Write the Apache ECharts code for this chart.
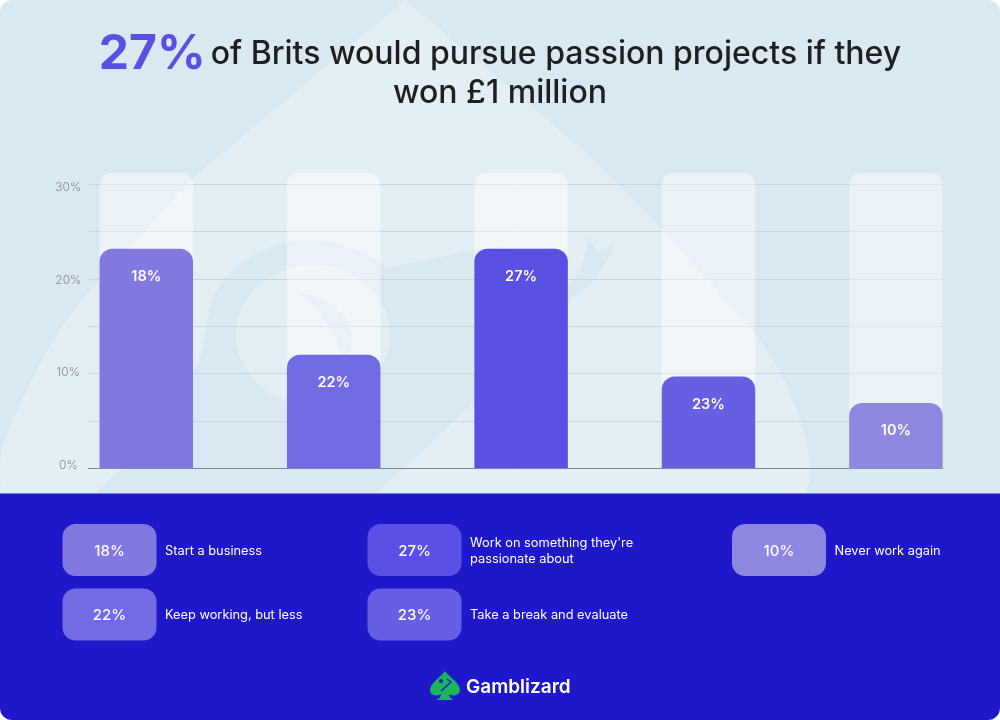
<!DOCTYPE html>
<html>
<head>
<meta charset="utf-8">
<title>Gamblizard chart</title>
<script src="https://cdn.jsdelivr.net/npm/echarts@6/dist/echarts.min.js"></script>
<style>
  html, body { margin: 0; padding: 0; background: #fff; }
  #chart { width: 1000px; height: 720px; }
</style>
</head>
<body>
<div id="chart"></div>
<script>
const categories = ['Start a business', 'Keep working, but less', "Work on something they're passionate about", 'Take a break and evaluate', 'Never work again'];
// bar heights as drawn against the axis, the printed labels differ from them
const barValues = [23.2, 12, 23.2, 9.7, 6.9];
const barLabels = ['18%', '22%', '27%', '23%', '10%'];
const axisTicks = [0, 10, 20, 30];

const barColors = ['#8178e0', '#736be4', '#5a50e3', '#675fe3', '#8e87e0'];
const legendSlots = [[62.5, 524], [62.5, 588.5], [367.5, 524], [367.5, 588.5], [732, 524]];

const FONT = 'Inter, "Noto Sans", sans-serif';
const PANEL = '#dae8f1';
const PANEL_LIGHT = '#e4eff5';
const NAVY = '#1f18cb';

// faint spade watermark behind the chart
const spadePath = 'M405 0 L193 178 L82 300 C50 338 20 400 2 447 C-1 465 0 480 1 493 L806 493 C810 480 811 472 810 463 C805 425 790 390 777 367 C765 347 755 333 746 323 L663 230 L583 150 Z';
const headPath = 'M95 493 L193 405 L193 373 C206 350 205 325 212 300 C225 268 265 240 308 240 C345 240 370 255 388 268 L473 250 C510 243 545 250 570 285 C582 270 587 255 588 236 L597 252 C605 250 610 246 616 240 C605 270 590 290 567 300 L473 403 L377 493 Z';
const crescentPath = 'M297 292 C325 296 350 312 353 340 C353 348 350 352 342 356 C335 330 320 308 297 292 Z';
const logoPath = 'M445 671 C441 677 430 683 430 690 C430 695 436 697 441 694 C441 697 439 699 436 700 L454 700 C451 699 449 697 449 694 C454 697 460 695 460 690 C460 683 449 677 445 671 Z';

// the graphic component has no plain path type, so register these as shapes
function registerPath(name, d) {
    echarts.graphic.registerShape(name, echarts.graphic.extendPath(d));
}
registerPath('wmSpade', spadePath);
registerPath('wmHead', headPath);
registerPath('wmCrescent', crescentPath);
registerPath('logoSpade', logoPath);

function buildGraphic() {
    const els = [
        { type: 'rect', z: -10, silent: true, shape: { x: 0, y: 0, width: 1000, height: 494, r: [12, 12, 0, 0] }, style: { fill: PANEL } },
        { type: 'wmSpade', z: -9, silent: true, style: { fill: PANEL_LIGHT } },
        { type: 'wmHead', z: -8, silent: true, style: { fill: PANEL } },
        { type: 'ellipse', z: -7, silent: true, shape: { cx: 313, cy: 335, rx: 77, ry: 70 }, style: { fill: PANEL_LIGHT } },
        { type: 'wmCrescent', z: -6, silent: true, style: { fill: PANEL } },
        { type: 'rect', z: -5, silent: true, shape: { x: 0, y: 493.5, width: 1000, height: 226.5, r: [0, 0, 12, 12] }, style: { fill: NAVY } },
        { type: 'logoSpade', z: 10, silent: true, style: { fill: '#1bb55c' } },
        { type: 'circle', z: 11, silent: true, shape: { cx: 441, cy: 681, r: 2 }, style: { fill: NAVY } },
        { type: 'polyline', z: 11, silent: true, shape: { points: [[447, 679], [451, 682], [441, 691]] }, style: { stroke: NAVY, lineWidth: 1.4, fill: null } },
        { type: 'text', z: 10, silent: true, x: 466, y: 687, style: { text: 'Gamblizard', fill: '#fff', font: '600 19px ' + FONT, textVerticalAlign: 'middle' } }
    ];
    categories.forEach((name, i) => {
        const [x, y] = legendSlots[i];
        els.push({ type: 'rect', z: 10, silent: true, shape: { x: x, y: y, width: 94, height: 52, r: 13 }, style: { fill: barColors[i] } });
        els.push({ type: 'text', z: 11, silent: true, x: x + 47, y: y + 27, style: { text: barLabels[i], fill: '#fff', font: '500 15px ' + FONT, textAlign: 'center', textVerticalAlign: 'middle' } });
        els.push({ type: 'text', z: 11, silent: true, x: x + 102.5, y: y + 27, style: { text: name, fill: '#fff', font: '400 12.8px ' + FONT, textVerticalAlign: 'middle', width: 175, overflow: 'break', lineHeight: 15.5 } });
    });
    return { elements: els };
}

const chart = echarts.init(document.getElementById('chart'), null, { renderer: 'canvas' });

chart.setOption({
    animation: false,
    backgroundColor: '#fff',
    graphic: buildGraphic(),
    title: {
        left: 'center',
        top: 30,
        text: '{big|27%} {main|of Brits would pursue passion projects if they}\n{main|won £1 million}',
        textStyle: {
            rich: {
                big: { fontFamily: FONT, fontSize: 48, fontWeight: 700, color: '#5a50e3', lineHeight: 39 },
                main: { fontFamily: FONT, fontSize: 32, fontWeight: 500, color: '#1f1f1f', lineHeight: 39 }
            }
        }
    },
    grid: [
        { left: 88.3, right: 57, top: 184.3, height: 284 },   // gridlines
        { left: 88.3, right: 57, top: 187.7, height: 277.6 }, // tick labels sit on their own scale
        { left: 52.6, width: 937, top: 172.7, height: 295.6 } // bars and tracks
    ],
    xAxis: [
        { gridIndex: 0, type: 'value', min: 0, max: 1, z: 1, axisLabel: { show: false }, axisTick: { show: false }, splitLine: { show: false },
          axisLine: { show: true, lineStyle: { color: '#7f8492', width: 1 } } },
        { gridIndex: 1, type: 'value', min: 0, max: 1, show: false },
        { gridIndex: 2, type: 'category', data: categories, show: false }
    ],
    yAxis: [
        { gridIndex: 0, type: 'value', min: 0, max: 30, interval: 5, z: 1, axisLabel: { show: false }, axisLine: { show: false }, axisTick: { show: false },
          splitLine: { show: true, lineStyle: { color: '#c6d6e0', width: 1 } } },
        { gridIndex: 1, type: 'value', min: axisTicks[0], max: axisTicks[axisTicks.length - 1], interval: axisTicks[1] - axisTicks[0],
          axisLine: { show: false }, axisTick: { show: false }, splitLine: { show: false },
          axisLabel: { formatter: '{value}%', align: 'center', margin: 20, color: '#85898e', fontFamily: FONT, fontSize: 12, fontWeight: 300 } },
        { gridIndex: 2, type: 'value', min: 0, max: 31.23, show: false }
    ],
    series: [{
        type: 'bar',
        xAxisIndex: 2,
        yAxisIndex: 2,
        barWidth: 93.5,
        showBackground: true,
        backgroundStyle: { color: 'rgba(255,255,255,0.45)', borderRadius: [12, 12, 0, 0] },
        data: barValues.map((v, i) => ({
            value: v,
            itemStyle: { color: barColors[i], borderRadius: [13, 13, 0, 0] },
            label: { formatter: barLabels[i] }
        })),
        label: { show: true, position: 'insideTop', distance: 20.5, color: '#fff', fontFamily: FONT, fontSize: 14.5, fontWeight: 600 }
    }]
});
</script>
</body>
</html>
